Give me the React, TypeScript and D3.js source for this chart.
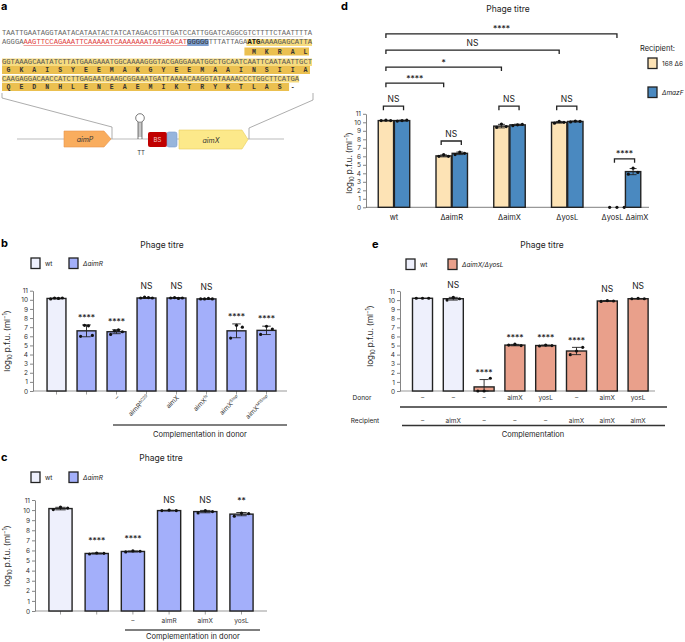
import React, { useEffect, useRef } from 'react';
import * as d3 from 'd3';

const FONT = 'Inter, "Liberation Sans", Arial, sans-serif';
const MONO = '"Liberation Mono", "DejaVu Sans Mono", monospace';
const INK = '#222';

// ---- panel a: aimX locus sequence ----
const dnaRow1 = 'TAATTGAATAGGTAATACATAATACTATCATAGACGTTTGATCCATTGGATCAGGCGTCTTTTCTAATTTTA';
const dnaRow2 = 'AGGGAAAGTTCCAGAAATTCAAAAATCAAAAAAATAAGAACATGGGGGTTTATTAGAATGAAAAGAGCATTA';
const dnaRow3 = 'GGTAAAGCAATATCTTATGAAGAAATGGCAAAAGGGTACGAGGAAATGGCTGCAATCAATTCAATAATTGCT';
const dnaRow4 = 'CAAGAGGACAACCATCTTGAGAATGAAGCGGAAATGATTAAAACAAGGTATAAAACCCTGGCTTCATGA';
const protein1 = 'MKRAL';
const protein2 = 'GKAISYEEMAKGYEEMAAINSIIA';
const protein3 = 'QEDNHLENEAEMIKTRYKTLAS-';

// ---- panel b ----
const bTicks = ['', '', '–', 'aimR', 'aimX', 'aimX', 'aimX', 'aimX'];
const bTickSup = ['', '', '', 'ΔC20', '', 'fs', 'Stop', 'M1Stop'];
const bStrains = ['wt', 'ΔaimR', 'ΔaimR', 'ΔaimR', 'ΔaimR', 'ΔaimR', 'ΔaimR', 'ΔaimR'];
const bMeans = [10.15, 6.6, 6.5, 10.2, 10.2, 10.1, 6.6, 6.65];
const bPoints = [
  [10.1, 10.2, 10.15, 10.2], [6.0, 7.2, 7.15, 6.1], [6.2, 6.6, 6.7, 6.5], [10.2, 10.3, 10.25, 10.2],
  [10.2, 10.25, 10.15, 10.2], [10.1, 10.1, 10.15, 10.1], [5.8, 7.2, 7.0], [6.2, 7.1, 6.8],
];
const bSig = ['', '****', '****', 'NS', 'NS', 'NS', '****', '****'];

// ---- panel c ----
const cTicks = ['', '', '–', 'aimR', 'aimX', 'yosL'];
const cStrains = ['wt', 'ΔaimR', 'ΔaimR', 'ΔaimR', 'ΔaimR', 'ΔaimR'];
const cMeans = [10.15, 5.7, 5.9, 9.95, 9.85, 9.6];
const cPoints = [
  [10.05, 10.3, 10.2], [5.65, 5.75, 5.72], [5.85, 5.95, 5.92],
  [9.95, 10.0, 9.95], [9.72, 9.95, 9.85], [9.4, 9.7, 9.65],
];
const cSig = ['', '****', '****', 'NS', 'NS', '**'];

// ---- panel d ----
const dGroups = ['wt', 'ΔaimR', 'ΔaimX', 'ΔyosL', 'ΔyosL ΔaimX'];
const dRecipients = ['168 Δ6', 'ΔmazF'];
const d168Means = [10.2, 6.05, 9.55, 10.0, 0];
const dMazfMeans = [10.2, 6.35, 9.7, 10.1, 4.2];
const d168Points = [[10.2, 10.25, 10.2], [6.0, 6.2, 6.0], [9.4, 9.8, 9.5], [9.9, 10.1, 10.0], [0, 0, 0]];
const dMazfPoints = [[10.15, 10.2, 10.25], [6.2, 6.5, 6.35], [9.6, 9.7, 9.75], [10.05, 10.15, 10.1], [3.9, 4.6, 4.1]];
const dPairSig = ['NS', 'NS', 'NS', 'NS', '****'];
const dPairLevel = [11.9, 7.8, 11.9, 11.9, 5.7];
const dCompTargets = ['ΔaimR', 'ΔaimX', 'ΔyosL', 'ΔyosL ΔaimX'];
const dCompSig = ['****', '*', 'NS', '****'];
const dCompLevel = [14.6, 16.5, 18.5, 20.4];

// ---- panel e ----
const eDonor = ['–', '–', '–', 'aimX', 'yosL', '–', 'aimX', 'yosL'];
const eRecipient = ['–', 'aimX', '–', '–', '–', 'aimX', 'aimX', 'aimX'];
const eStrains = ['wt', 'wt', 'ΔaimX/ΔyosL', 'ΔaimX/ΔyosL', 'ΔaimX/ΔyosL', 'ΔaimX/ΔyosL', 'ΔaimX/ΔyosL', 'ΔaimX/ΔyosL'];
const eMeans = [10.2, 10.15, 0.45, 5.05, 5.0, 4.4, 9.9, 10.15];
const ePoints = [
  [10.2, 10.2, 10.2], [10.0, 10.3, 10.15], [0, 0, 1.4], [5.05, 5.15, 5.0],
  [4.95, 5.05, 5.0], [4.0, 4.4, 4.8], [9.85, 9.95, 9.9], [10.15, 10.2, 10.15],
];
const eSig = ['', 'NS', '****', '****', '****', '****', 'NS', 'NS'];

const fills: Record<string, string> = {
  wt: '#eef0fc',
  'ΔaimR': '#a3affa',
  'ΔaimX/ΔyosL': '#e9a08b',
  '168 Δ6': '#fde3b5',
  'ΔmazF': '#4a89c0',
};

const yTitle = (svg, x, y) => {
  const t = svg.append('text')
    .attr('transform', `translate(${x},${y}) rotate(-90)`)
    .attr('text-anchor', 'middle')
    .attr('font-size', 8)
    .attr('fill', INK);
  t.append('tspan').text('log');
  t.append('tspan').attr('font-size', 5.5).attr('dy', 2).text('10');
  t.append('tspan').attr('dy', -2).text(' p.f.u. (ml');
  t.append('tspan').attr('font-size', 5.5).attr('dy', -3).text('−1');
  t.append('tspan').attr('dy', 3).text(')');
};

const yAxis = (svg, y, x) => {
  const ax = svg.append('g')
    .attr('transform', `translate(${x},0)`)
    .call(d3.axisLeft(y).tickValues(d3.range(0, 12)).tickSize(3).tickSizeOuter(0).tickPadding(2));
  ax.select('.domain').attr('stroke', '#666').attr('stroke-width', 0.8);
  ax.selectAll('.tick line').attr('stroke', '#666').attr('stroke-width', 0.8);
  ax.selectAll('.tick text').attr('font-size', 6.5).attr('fill', '#333').attr('font-family', FONT);
};

const legendItem = (svg, x, y, fill, label, italic) => {
  svg.append('rect').attr('x', x).attr('y', y).attr('width', 9).attr('height', 10.5)
    .attr('fill', fill).attr('stroke', INK).attr('stroke-width', 1.3);
  svg.append('text').attr('x', x + 14).attr('y', y + 8).attr('font-size', 6.5)
    .attr('font-style', italic ? 'italic' : 'normal').attr('fill', INK).text(label);
};

// one bar with error bar and dots
const drawBar = (svg, cx, bw, y, mean, pts, fill, sig, nsOff, starOff) => {
  if (mean > 0) {
    svg.append('rect')
      .attr('x', cx - bw / 2).attr('y', y(mean))
      .attr('width', bw).attr('height', y(0) - y(mean))
      .attr('fill', fill).attr('stroke', INK).attr('stroke-width', 1.4);
  }
  const sd = d3.deviation(pts) || 0;
  const hi = mean + sd;
  const lo = Math.max(0, mean - sd);
  const cap = bw * 0.45;
  if (sd > 0) {
    svg.append('line').attr('x1', cx).attr('x2', cx).attr('y1', y(lo)).attr('y2', y(hi))
      .attr('stroke', INK).attr('stroke-width', 0.9);
    [lo, hi].forEach(v => {
      svg.append('line').attr('x1', cx - cap / 2).attr('x2', cx + cap / 2).attr('y1', y(v)).attr('y2', y(v))
        .attr('stroke', INK).attr('stroke-width', 0.9);
    });
  }
  const n = pts.length;
  const spread = mean > 0 ? bw * 0.62 : bw * 0.95;
  pts.forEach((p, k) => {
    const off = n > 1 ? (k / (n - 1) - 0.5) * spread : 0;
    svg.append('circle').attr('cx', cx + off).attr('cy', y(p)).attr('r', 1.6).attr('fill', '#111');
  });
  if (sig) {
    const isNS = sig === 'NS';
    svg.append('text')
      .attr('x', cx).attr('y', y(hi) - (isNS ? nsOff : starOff))
      .attr('text-anchor', 'middle')
      .attr('font-size', 8.5)
      .attr('fill', INK)
      .text(sig);
  }
};

const drawPanelA = (svg) => {
  svg.append('text').attr('x', 1).attr('y', 10).attr('font-size', 11).attr('font-weight', 700).attr('fill', '#000').text('a');

  const sx = d3.scaleLinear().domain([0, 72]).range([2, 312]);
  const cw = sx(1) - sx(0);
  const dnaBg = '#f7dc80';
  const aaBg = '#ebc050';

  // highlights
  svg.append('rect').attr('x', sx(43)).attr('y', 39).attr('width', sx(48) - sx(43)).attr('height', 7).attr('fill', '#7d9fd0');
  svg.append('rect').attr('x', sx(57) - 1).attr('y', 39).attr('width', sx(72) - sx(57) + 1).attr('height', 7).attr('fill', dnaBg);
  svg.append('rect').attr('x', sx(57) - 3).attr('y', 47.5).attr('width', sx(72) - sx(57)).attr('height', 8).attr('fill', aaBg);
  svg.append('rect').attr('x', sx(0)).attr('y', 58.5).attr('width', sx(72) - sx(0)).attr('height', 7.5).attr('fill', dnaBg);
  svg.append('rect').attr('x', sx(0)).attr('y', 66).attr('width', sx(72) - sx(0) - 2).attr('height', 8).attr('fill', aaBg);
  svg.append('rect').attr('x', sx(0)).attr('y', 75.5).attr('width', sx(69) - sx(0)).attr('height', 7).attr('fill', dnaBg);
  svg.append('rect').attr('x', sx(0)).attr('y', 83).attr('width', sx(69) - sx(0) - 10).attr('height', 8).attr('fill', aaBg);

  const dna = (str, start, base, color, weight) => {
    svg.append('text').attr('x', sx(start)).attr('y', base)
      .attr('font-family', MONO).attr('font-size', 6.6).attr('fill', color)
      .attr('font-weight', weight || 400)
      .attr('textLength', str.length * cw).attr('lengthAdjust', 'spacingAndGlyphs')
      .text(str);
  };
  dna(dnaRow1, 0, 35.3, '#666');
  svg.append('line').attr('x1', sx(18)).attr('x2', sx(70)).attr('y1', 36.6).attr('y2', 36.6).attr('stroke', '#999').attr('stroke-width', 0.4);
  dna(dnaRow2.slice(0, 5), 0, 44.3, '#666');
  dna(dnaRow2.slice(5, 43), 5, 44.3, '#e0403c');
  svg.append('line').attr('x1', sx(5)).attr('x2', sx(43)).attr('y1', 45.5).attr('y2', 45.5).attr('stroke', '#e0403c').attr('stroke-width', 0.5);
  dna(dnaRow2.slice(43, 48), 43, 44.3, '#333');
  dna(dnaRow2.slice(48, 57), 48, 44.3, '#666');
  dna(dnaRow2.slice(57, 60), 57, 44.3, '#111', 700);
  dna(dnaRow2.slice(60), 60, 44.3, '#555');
  dna(dnaRow3, 0, 64.3, '#555');
  dna(dnaRow4, 0, 81.3, '#555');

  const aa = (str, start, base) => {
    str.split('').forEach((c, k) => {
      svg.append('text').attr('x', sx(start + 3 * k + 1.5)).attr('y', base)
        .attr('text-anchor', 'middle').attr('font-family', MONO).attr('font-weight', 700)
        .attr('font-size', 6.5).attr('fill', '#333').text(c);
    });
  };
  aa(protein1, 57, 54);
  aa(protein2, 0, 72.3);
  aa(protein3, 0, 89.3);

  // zoom lines to gene map
  const grey = '#8a8a8a';
  svg.append('polyline').attr('points', '2,93 2,98 112,127 112,139').attr('fill', 'none').attr('stroke', grey).attr('stroke-width', 0.7);
  svg.append('polyline').attr('points', '313,93 313,100 249,128 249,139').attr('fill', 'none').attr('stroke', grey).attr('stroke-width', 0.7);

  // gene map
  svg.append('line').attr('x1', 17).attr('x2', 284).attr('y1', 139).attr('y2', 139).attr('stroke', '#aaa').attr('stroke-width', 0.8);
  svg.append('polygon').attr('points', '64,131 104,131 111,139 104,147 64,147')
    .attr('fill', '#f9ad5e').attr('stroke', '#e8944a').attr('stroke-width', 0.6);
  svg.append('text').attr('x', 85).attr('y', 142).attr('text-anchor', 'middle').attr('font-size', 7).attr('font-style', 'italic').attr('fill', '#333').text('aimP');

  // terminator hairpin
  svg.append('line').attr('x1', 138).attr('x2', 138).attr('y1', 122).attr('y2', 139).attr('stroke', '#222').attr('stroke-width', 0.6);
  svg.append('line').attr('x1', 142).attr('x2', 142).attr('y1', 122).attr('y2', 139).attr('stroke', '#222').attr('stroke-width', 0.6);
  d3.range(124, 138, 2).forEach(yy => {
    svg.append('line').attr('x1', 138).attr('x2', 142).attr('y1', yy).attr('y2', yy).attr('stroke', '#222').attr('stroke-width', 0.5);
  });
  svg.append('circle').attr('cx', 140).attr('cy', 118).attr('r', 4.3).attr('fill', '#fff').attr('stroke', '#222').attr('stroke-width', 0.6);
  svg.append('text').attr('x', 141).attr('y', 155).attr('text-anchor', 'middle').attr('font-size', 6).attr('fill', '#333').text('TT');

  svg.append('rect').attr('x', 148).attr('y', 132).attr('width', 19).attr('height', 15).attr('rx', 2).attr('fill', '#c00000');
  svg.append('text').attr('x', 157.5).attr('y', 142).attr('text-anchor', 'middle').attr('font-size', 6).attr('fill', '#f4c8c8').text('BS');
  svg.append('rect').attr('x', 167).attr('y', 132).attr('width', 10).attr('height', 15).attr('rx', 2).attr('fill', '#97b5dc').attr('stroke', '#7a9acc').attr('stroke-width', 0.6);
  svg.append('polygon').attr('points', '179,130 242,130 248,139.5 242,149 179,149')
    .attr('fill', '#fce98a').attr('stroke', '#e8cf5a').attr('stroke-width', 0.6);
  svg.append('text').attr('x', 211).attr('y', 143).attr('text-anchor', 'middle').attr('font-size', 7).attr('font-style', 'italic').attr('fill', '#333').text('aimX');
};

const drawSimple = (svg, o) => {
  const y = d3.scaleLinear().domain([0, 11]).range(o.yRange);
  const x = d3.scaleBand().domain(o.means.map((_, i) => String(i))).range(o.band)
    .paddingInner(o.pad).paddingOuter(o.pad / 2);
  const bw = x.bandwidth();
  const c = i => (x(String(i)) as number) + bw / 2;

  svg.append('line').attr('x1', o.axisX).attr('x2', o.baseEnd).attr('y1', y(0)).attr('y2', y(0))
    .attr('stroke', '#999').attr('stroke-width', 1.2);
  if (o.tickMarks) {
    o.means.forEach((_, i) => {
      svg.append('line').attr('x1', c(i)).attr('x2', c(i)).attr('y1', y(0)).attr('y2', y(0) + 3.5)
        .attr('stroke', '#777').attr('stroke-width', 0.7);
    });
  }
  yAxis(svg, y, o.axisX);
  yTitle(svg, o.titleX, o.titleY);
  o.means.forEach((m, i) => {
    drawBar(svg, c(i), bw, y, m, o.points[i], fills[o.strains[i]], o.sig[i], o.nsOff, o.starOff);
  });
  return c;
};

const drawPanelB = (svg) => {
  svg.append('text').attr('x', 1).attr('y', 247).attr('font-size', 11).attr('font-weight', 700).attr('fill', '#000').text('b');
  svg.append('text').attr('x', 162).attr('y', 248).attr('text-anchor', 'middle').attr('font-size', 8.5).attr('fill', INK).text('Phage titre');
  legendItem(svg, 31, 258, fills.wt, 'wt', false);
  legendItem(svg, 69, 258, fills['ΔaimR'], 'ΔaimR', true);
  const c = drawSimple(svg, {
    yRange: [391, 290.7], axisX: 33, baseEnd: 287, band: [41.5, 281.5], pad: 0.37,
    means: bMeans, points: bPoints, strains: bStrains, sig: bSig, nsOff: 9, starOff: 4.3,
    titleX: 10, titleY: 341, tickMarks: true,
  });
  bTicks.forEach((t, i) => {
    if (!t) return;
    const tx = svg.append('text')
      .attr('transform', `translate(${c(i) + 3},${398}) rotate(-45)`)
      .attr('text-anchor', 'end').attr('font-size', 6.5).attr('fill', '#333');
    tx.append('tspan').text(t);
    if (bTickSup[i]) tx.append('tspan').attr('font-size', 4.2).attr('dy', -2.5).text(bTickSup[i]);
  });
  svg.append('line').attr('x1', 113).attr('x2', 287).attr('y1', 425).attr('y2', 425).attr('stroke', '#555').attr('stroke-width', 1.4);
  svg.append('text').attr('x', 200).attr('y', 437).attr('text-anchor', 'middle').attr('font-size', 7.5).attr('fill', INK).text('Complementation in donor');
};

const drawPanelC = (svg) => {
  svg.append('text').attr('x', 1).attr('y', 461).attr('font-size', 11).attr('font-weight', 700).attr('fill', '#000').text('c');
  svg.append('text').attr('x', 161).attr('y', 461).attr('text-anchor', 'middle').attr('font-size', 8.5).attr('fill', INK).text('Phage titre');
  legendItem(svg, 31, 472, fills.wt, 'wt', false);
  legendItem(svg, 69, 472, fills['ΔaimR'], 'ΔaimR', true);
  const c = drawSimple(svg, {
    yRange: [611, 500], axisX: 35, baseEnd: 267, band: [42.4, 259.6], pad: 0.36,
    means: cMeans, points: cPoints, strains: cStrains, sig: cSig, nsOff: 7, starOff: 9,
    titleX: 10, titleY: 556, tickMarks: true,
  });
  cTicks.forEach((t, i) => {
    if (!t) return;
    svg.append('text').attr('x', c(i)).attr('y', 623).attr('text-anchor', 'middle')
      .attr('font-size', 6.5).attr('fill', '#333').text(t);
  });
  svg.append('line').attr('x1', 125).attr('x2', 260).attr('y1', 630).attr('y2', 630).attr('stroke', '#555').attr('stroke-width', 1.4);
  svg.append('text').attr('x', 193).attr('y', 639).attr('text-anchor', 'middle').attr('font-size', 7.5).attr('fill', INK).text('Complementation in donor');
};

const drawPanelD = (svg) => {
  svg.append('text').attr('x', 341).attr('y', 10).attr('font-size', 11).attr('font-weight', 700).attr('fill', '#000').text('d');
  svg.append('text').attr('x', 508).attr('y', 12).attr('text-anchor', 'middle').attr('font-size', 8.5).attr('fill', INK).text('Phage titre');

  const y = d3.scaleLinear().domain([0, 11]).range([207.3, 113.8]);
  const x0 = d3.scaleBand().domain(dGroups).range([365.1, 653.9]).paddingInner(0.455).paddingOuter(0.2275);
  const x1 = d3.scaleBand().domain(dRecipients).range([0, x0.bandwidth()]).paddingInner(0.05);
  const bw = x1.bandwidth();
  const cx = (g, r) => (x0(g) as number) + (x1(r) as number) + bw / 2;

  svg.append('line').attr('x1', 366).attr('x2', 649).attr('y1', y(0)).attr('y2', y(0)).attr('stroke', '#999').attr('stroke-width', 1.2);
  yAxis(svg, y, 366);
  yTitle(svg, 352, 163);

  dGroups.forEach((g, i) => {
    drawBar(svg, cx(g, dRecipients[0]), bw, y, d168Means[i], d168Points[i], fills['168 Δ6'], '', 0, 0);
    drawBar(svg, cx(g, dRecipients[1]), bw, y, dMazfMeans[i], dMazfPoints[i], fills['ΔmazF'], '', 0, 0);
    svg.append('text').attr('x', (x0(g) as number) + x0.bandwidth() / 2).attr('y', 220)
      .attr('text-anchor', 'middle').attr('font-size', 7.5).attr('fill', INK).text(g);
  });

  const bracket = (xa, xb, level, label) => {
    const yy = y(level);
    svg.append('path').attr('d', `M${xa},${yy + 4}V${yy}H${xb}V${yy + 4}`)
      .attr('fill', 'none').attr('stroke', INK).attr('stroke-width', 1.3);
    svg.append('text').attr('x', (xa + xb) / 2).attr('y', yy - (label === 'NS' ? 4 : 1.5))
      .attr('text-anchor', 'middle').attr('font-size', 8.5).attr('fill', INK).text(label);
  };
  dGroups.forEach((g, i) => {
    bracket(cx(g, dRecipients[0]) - 2.5, cx(g, dRecipients[1]) + 1.5, dPairLevel[i], dPairSig[i]);
  });
  const start = cx(dGroups[0], dRecipients[0]);
  dCompTargets.forEach((t, i) => {
    bracket(start, cx(t, dRecipients[0]), dCompLevel[i], dCompSig[i]);
  });

  svg.append('text').attr('x', 640).attr('y', 51).attr('font-size', 7.5).attr('fill', INK).text('Recipient:');
  legendItem(svg, 648, 58, fills['168 Δ6'], '168 Δ6', false);
  legendItem(svg, 648, 87, fills['ΔmazF'], 'ΔmazF', true);
};

const drawPanelE = (svg) => {
  svg.append('text').attr('x', 372).attr('y', 248).attr('font-size', 11).attr('font-weight', 700).attr('fill', '#000').text('e');
  svg.append('text').attr('x', 542).attr('y', 248).attr('text-anchor', 'middle').attr('font-size', 8.5).attr('fill', INK).text('Phage titre');
  legendItem(svg, 406, 259, fills.wt, 'wt', false);
  legendItem(svg, 448, 259, fills['ΔaimX/ΔyosL'], 'ΔaimX/ΔyosL', true);
  const c = drawSimple(svg, {
    yRange: [391, 291], axisX: 400, baseEnd: 655, band: [407.1, 653.5], pad: 0.35,
    means: eMeans, points: ePoints, strains: eStrains, sig: eSig, nsOff: 9, starOff: 3.8,
    titleX: 373, titleY: 336, tickMarks: false,
  });
  svg.append('text').attr('x', 362).attr('y', 400).attr('text-anchor', 'middle').attr('font-size', 6.5).attr('fill', INK).text('Donor');
  svg.append('text').attr('x', 365).attr('y', 422.5).attr('text-anchor', 'middle').attr('font-size', 6.5).attr('fill', INK).text('Recipient');
  eDonor.forEach((t, i) => {
    svg.append('text').attr('x', c(i)).attr('y', 400).attr('text-anchor', 'middle').attr('font-size', 6.5).attr('fill', '#333').text(t);
  });
  eRecipient.forEach((t, i) => {
    svg.append('text').attr('x', c(i)).attr('y', 422.5).attr('text-anchor', 'middle').attr('font-size', 6.5).attr('fill', '#333').text(t);
  });
  svg.append('line').attr('x1', 400).attr('x2', 667).attr('y1', 407).attr('y2', 407).attr('stroke', '#333').attr('stroke-width', 1.4);
  svg.append('line').attr('x1', 402).attr('x2', 665).attr('y1', 425.5).attr('y2', 425.5).attr('stroke', '#333').attr('stroke-width', 1.4);
  svg.append('text').attr('x', 533).attr('y', 437).attr('text-anchor', 'middle').attr('font-size', 7.5).attr('fill', INK).text('Complementation');
};

const App = () => {
  const svgRef = useRef<SVGSVGElement>(null);

  useEffect(() => {
    const svg = d3.select(svgRef.current);
    svg.selectAll('*').remove();
    svg.attr('font-family', FONT);
    drawPanelA(svg);
    drawPanelB(svg);
    drawPanelC(svg);
    drawPanelD(svg);
    drawPanelE(svg);
  }, []);

  return (
    <div style={{ position: 'absolute', left: 0, top: 0, background: '#fff' }}>
      <svg ref={svgRef} width={685} height={642}></svg>
    </div>
  );
};

export default App;
